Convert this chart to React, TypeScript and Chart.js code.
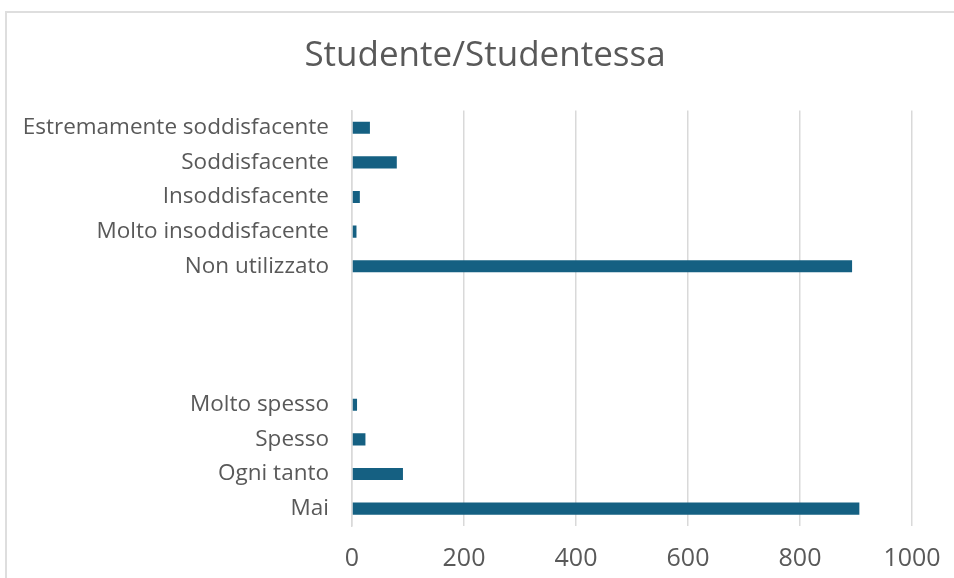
import React, { useEffect, useRef } from "react";
import { Chart, registerables } from "chart.js";

Chart.register(...registerables);

const categories: string[] = [
  "Estremamente soddisfacente",
  "Soddisfacente",
  "Insoddisfacente",
  "Molto insoddisfacente",
  "Non utilizzato",
  "",
  "",
  "",
  "Molto spesso",
  "Spesso",
  "Ogni tanto",
  "Mai",
];
const values: (number | null)[] = [32, 80, 14, 8, 893, null, null, null, 9, 24, 91, 906];
const xTicks: number[] = [0, 200, 400, 600, 800, 1000];
const titleText = "Studente/Studentessa";

const FONT = "'Open Sans', 'Liberation Sans', sans-serif";
const TEXT = "#595959";
const GRID = "#d9d9d9";
const BAR = "#156082";
const CW = 970;
const PLOT_LEFT = 352;
const PLOT_RIGHT = 912;

export default function App() {
  const ref = useRef<HTMLCanvasElement | null>(null);

  useEffect(() => {
    document.body.style.margin = "0";
    const ctx = ref.current!.getContext("2d")!;
    const chart = new Chart(ctx, {
      type: "bar",
      data: {
        labels: categories,
        datasets: [
          {
            data: values,
            backgroundColor: BAR,
            borderWidth: 0,
            categoryPercentage: 1,
            barPercentage: 0.35,
          },
        ],
      },
      options: {
        indexAxis: "y",
        animation: false,
        responsive: false,
        maintainAspectRatio: false,
        layout: { padding: 0 },
        plugins: {
          legend: { display: false },
          tooltip: { enabled: false },
          title: {
            display: true,
            text: titleText,
            color: TEXT,
            font: { family: FONT, size: 35, weight: "normal", lineHeight: 1.2 },
            padding: { top: 35, bottom: 33.4 },
          },
        },
        scales: {
          x: {
            min: 0,
            max: 1000,
            afterBuildTicks: (scale: any) => {
              scale.ticks = xTicks.map((v) => ({ value: v }));
            },
            afterFit: (scale: any) => {
              scale.height = 52;
            },
            grid: { color: GRID, lineWidth: 1.5, drawTicks: false },
            border: { display: false },
            ticks: {
              color: TEXT,
              font: { family: FONT, size: 25 },
              padding: 18,
              callback: (v: any) => String(v),
            },
          },
          y: {
            afterFit: (scale: any) => {
              scale.width = PLOT_LEFT;
            },
            grid: { display: false, drawTicks: false },
            border: { display: true, color: GRID, width: 1.5 },
            ticks: {
              color: TEXT,
              font: { family: FONT, size: 22.5 },
              padding: 23,
              autoSkip: false,
            },
          },
          yRight: {
            type: "category",
            position: "right",
            display: true,
            afterFit: (scale: any) => {
              scale.width = CW - PLOT_RIGHT;
            },
            grid: { display: false, drawTicks: false },
            border: { display: false },
            ticks: { display: false },
          },
        },
      },
    });
    return () => chart.destroy();
  }, []);

  return (
    <div style={{ position: "fixed", left: 0, top: 0, width: 954, height: 578, overflow: "hidden", background: "#fff" }}>
      <div
        style={{
          position: "absolute",
          left: 5,
          top: 11,
          width: 1100,
          height: 800,
          border: "2px solid #dedede",
          boxSizing: "border-box",
        }}
      />
      <canvas ref={ref} width={CW} height={578} style={{ position: "absolute", left: 0, top: 0 }} />
    </div>
  );
}
